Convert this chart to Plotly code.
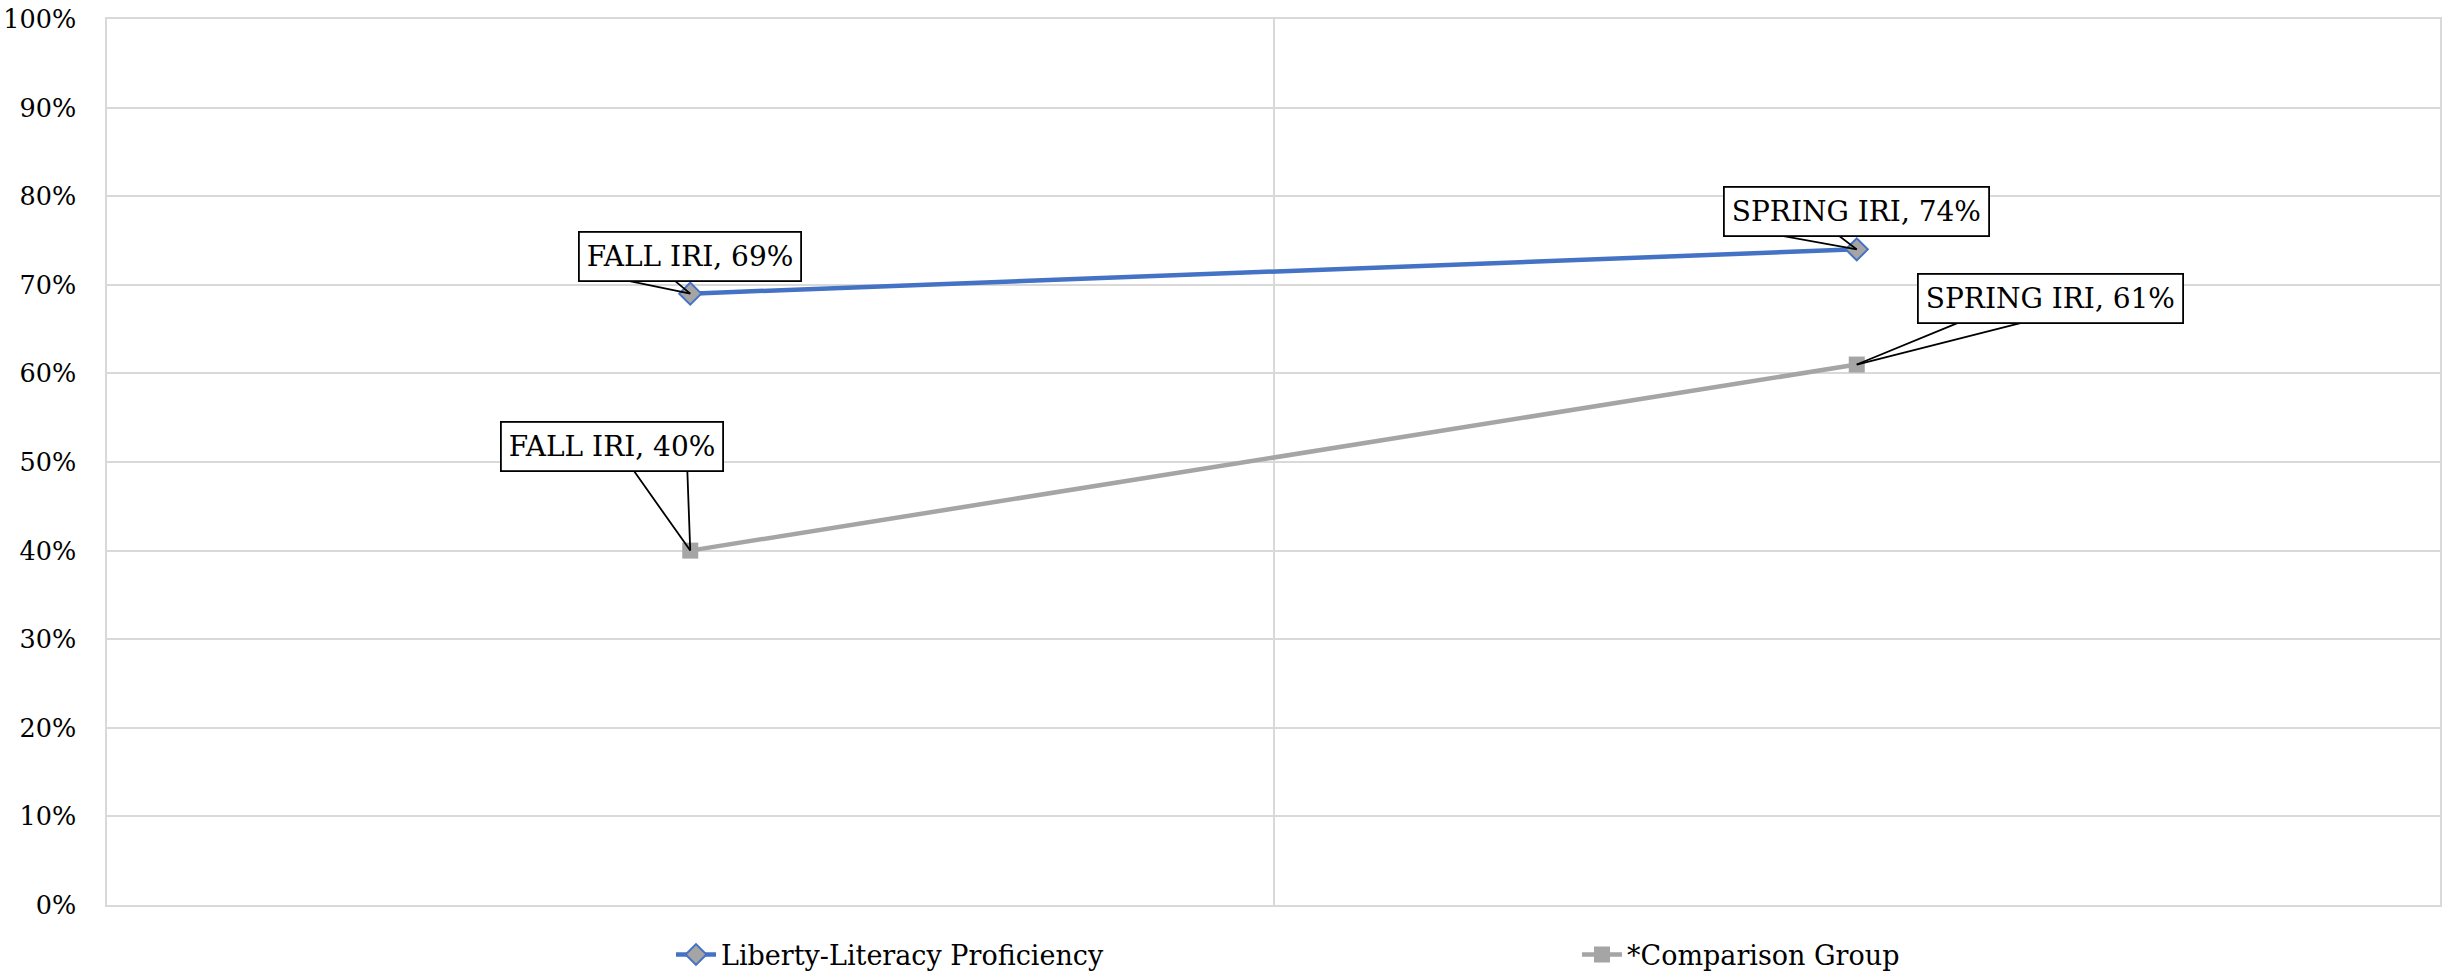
import plotly.graph_objects as go

# Assessment periods and percent proficient per group
categories = ["FALL IRI", "SPRING IRI"]
liberty_values = [69, 74]
comparison_values = [40, 61]
series_names = ["Liberty-Literacy Proficiency", "*Comparison Group"]
y_ticks = list(range(0, 101, 10))
y_tick_labels = [f"{t}%" for t in y_ticks]

FONT = "DejaVu Serif"
BLUE = "#4472C4"
GRAY = "#A5A5A5"
GRID = "#D9D9D9"

x_pos = list(range(len(categories)))

fig = go.Figure()
fig.add_trace(go.Scatter(
    x=x_pos, y=liberty_values, name=series_names[0], mode="lines+markers",
    line=dict(color=BLUE, width=4.5),
    marker=dict(symbol="diamond", size=17, color=GRAY, line=dict(color=BLUE, width=2)),
))
fig.add_trace(go.Scatter(
    x=x_pos, y=comparison_values, name=series_names[1], mode="lines+markers",
    line=dict(color=GRAY, width=4.5),
    marker=dict(symbol="square", size=16, color=GRAY, line=dict(color=GRAY, width=0)),
))

# Callout labels: (series values, index, box offset px, wedge base offsets px)
callouts = [
    (liberty_values, 0, (0, -37), [(-73, -15), (-18, -15)]),
    (comparison_values, 0, (-78, -104), [(-58, -82), (-3, -82)]),
    (liberty_values, 1, (0, -38), [(-88, -16), (-21, -16)]),
    (comparison_values, 1, (194, -66), [(107, -44), (174, -44)]),
]

annotations = []
for values, i, (bx, by), wedge in callouts:
    for wx, wy in wedge:
        annotations.append(dict(
            x=x_pos[i], y=values[i], xref="x", yref="y", text="",
            showarrow=True, arrowhead=0, arrowwidth=1.8, arrowcolor="black",
            ax=wx, ay=wy, standoff=0, startstandoff=0,
        ))
    annotations.append(dict(
        x=x_pos[i], y=values[i], xref="x", yref="y",
        text=f"{categories[i]}, {values[i]}%", showarrow=False,
        xshift=bx, yshift=-by,
        font=dict(family=FONT, size=28, color="black"),
        bgcolor="white", bordercolor="black", borderwidth=1.8, borderpad=7,
    ))

fig.update_layout(
    width=2455, height=971,
    margin=dict(l=107, r=15, t=19, b=66, autoexpand=False),
    paper_bgcolor="white", plot_bgcolor="white",
    font=dict(family=FONT, size=25, color="black"),
    showlegend=True,
    legend=dict(
        orientation="h", xref="container", yref="container",
        x=671 / 2455, xanchor="left", y=1 - 955 / 971, yanchor="middle",
        font=dict(family=FONT, size=27, color="black"),
        entrywidth=851, itemwidth=40,
    ),
    annotations=annotations,
)
fig.update_xaxes(
    range=[-0.5, len(categories) - 0.5], tickvals=[0.5], showticklabels=False,
    showgrid=True, gridcolor=GRID, gridwidth=1.5, zeroline=False,
    showline=True, linecolor=GRID, linewidth=1.5, mirror=True, ticks="",
)
fig.update_yaxes(
    range=[0, 100], tickvals=y_ticks, ticktext=y_tick_labels,
    showgrid=True, gridcolor=GRID, gridwidth=1.5, zeroline=False,
    showline=True, linecolor=GRID, linewidth=1.5, mirror=True, ticks="",
    ticklabelstandoff=24, tickfont=dict(family=FONT, size=25.5),
)

fig.write_html("out.html")
